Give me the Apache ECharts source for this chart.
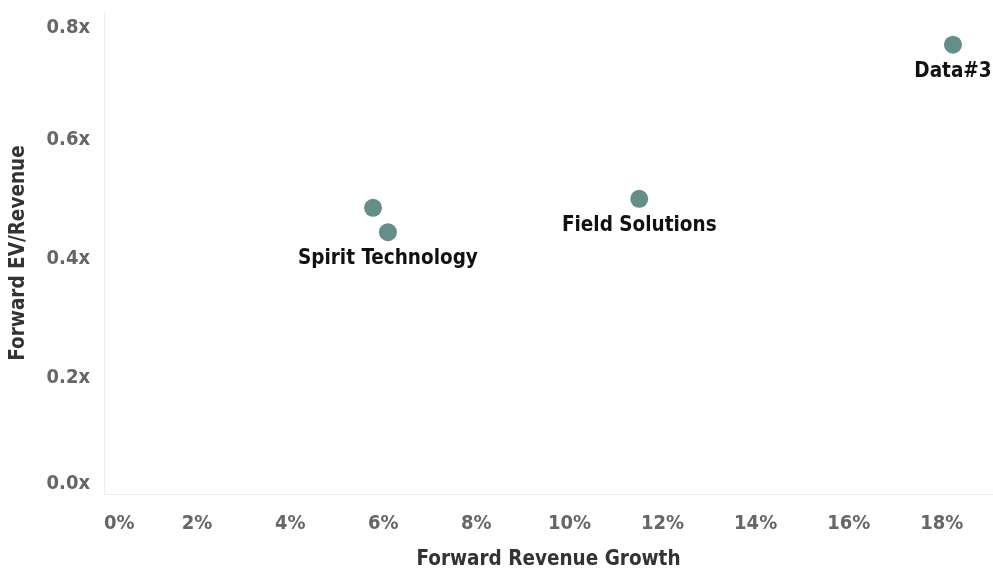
<!DOCTYPE html>
<html><head><meta charset="utf-8">
<script src="https://cdn.jsdelivr.net/npm/echarts@6/dist/echarts.min.js"></script>
<style>html,body{margin:0;padding:0;background:#fff}#c{width:993px;height:570px}</style>
</head><body><div id="c"></div>
<script>
const names = ['', 'Spirit Technology', 'Field Solutions', 'Data#3'];
const growth = [5.78, 6.1, 11.5, 18.24];
const evRevenue = [0.481, 0.44, 0.496, 0.755];
const xTicks = [0, 2, 4, 6, 8, 10, 12, 14, 16, 18];
const yTicks = [0, 0.2, 0.4, 0.6, 0.8];

const FONT = '"DejaVu Sans Condensed", "DejaVu Sans"';
const tickStyle = {fontFamily: FONT, fontWeight: 'bold', fontSize: 20, color: '#666'};
const chart = echarts.init(document.getElementById('c'));
chart.setOption({
  animation: false,
  grid: {left: 104, right: 0, top: 12, bottom: 76, containLabel: false, outerBoundsMode: 'none'},
  xAxis: {
    type: 'value', min: 0, max: 19.1, interval: 2,
    name: 'Forward Revenue Growth', nameLocation: 'middle', nameGap: 55,
    nameTextStyle: {fontFamily: FONT, fontWeight: 'bold', fontSize: 20.5, color: '#333'},
    axisLine: {show: true, lineStyle: {color: '#eeeeee', width: 1}},
    axisTick: {show: false}, splitLine: {show: false},
    axisLabel: Object.assign({}, tickStyle, {
      margin: 20, showMaxLabel: false, alignMinLabel: 'left',
      formatter: v => xTicks.includes(v) ? v + '%' : ''
    })
  },
  yAxis: {
    type: 'value', min: 0, max: 0.81, interval: 0.2,
    name: 'Forward EV/Revenue', nameLocation: 'middle', nameGap: 75,
    nameTextStyle: {fontFamily: FONT, fontWeight: 'bold', fontSize: 20.5, color: '#333'},
    axisLine: {show: true, lineStyle: {color: '#eeeeee', width: 1}},
    axisTick: {show: false}, splitLine: {show: false},
    axisLabel: Object.assign({}, tickStyle, {
      margin: 14, showMaxLabel: false,
      formatter: v => {
        const t = yTicks.find(y => Math.abs(y - v) < 1e-9);
        if (t === undefined) return '';
        const key = t === 0 ? 'lo' : (t === 0.8 ? 'hi' : 'mid');
        return '{' + key + '|' + t.toFixed(1) + 'x}';
      },
      rich: {
        lo: Object.assign({}, tickStyle, {padding: [0, 0, 20, 0]}),
        mid: Object.assign({}, tickStyle, {padding: [6, 0, 0, 0]}),
        hi: Object.assign({}, tickStyle, {padding: [20, 0, 0, 0]})
      }
    })
  },
  series: [{
    type: 'scatter', symbolSize: 18,
    itemStyle: {color: '#658e8b', opacity: 1},
    label: {
      show: true, position: 'bottom', distance: 7,
      fontFamily: FONT, fontWeight: 'bold', fontSize: 20.5, color: '#111',
      formatter: p => p.data[2]
    },
    data: growth.map((g, i) => [g, evRevenue[i], names[i]])
  }]
});
</script></body></html>
